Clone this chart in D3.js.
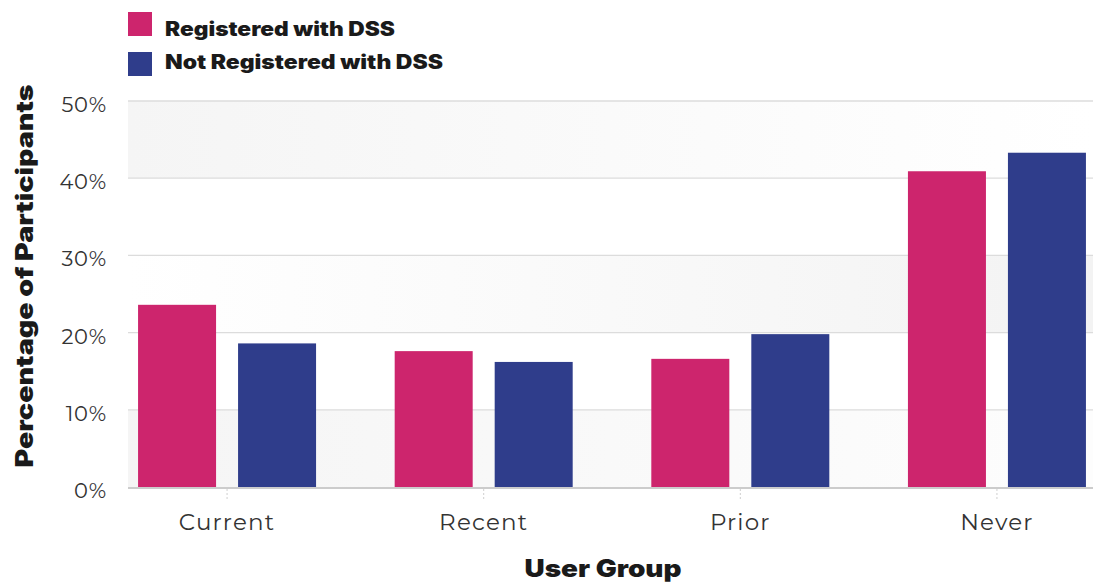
<!DOCTYPE html>
<html><head><meta charset="utf-8">
<script src="https://cdn.jsdelivr.net/npm/d3@7"></script>
<style>body{margin:0;background:#fff}svg{display:block}</style>
</head><body>
<svg id="c" width="1093" height="584"></svg>
<script>
const categories = ["Current", "Recent", "Prior", "Never"];
const seriesNames = ["Registered with DSS", "Not Registered with DSS"];
const registered = [23.6, 17.6, 16.6, 40.9];
const notRegistered = [18.6, 16.2, 19.8, 43.3];
const yTicks = [0, 10, 20, 30, 40, 50];
const colors = ["#cd256d", "#2f3d8b"];

(function () {
const svg = d3.select("#c");
const plotL = 128, plotR = 1093, plotTop = 101, plotBottom = 487;
const y = d3.scaleLinear().domain([0, 50]).range([plotBottom, plotTop]);
const x = d3.scaleBand().domain(categories).range([98.75, 1125.25]).paddingInner(0).paddingOuter(0);
const groupW = 178;
const xs = d3.scaleBand().domain(seriesNames).range([-groupW/2, groupW/2]).paddingInner(0.22);

const defs = svg.append("defs");
function grad(id, c1, c2) {
  const g = defs.append("linearGradient").attr("id", id).attr("x1", "0").attr("x2", "1").attr("y1", "0").attr("y2", "0");
  g.append("stop").attr("offset", "0").attr("stop-color", c1);
  g.append("stop").attr("offset", "1").attr("stop-color", c2);
}
grad("gA", "#f5f5f5", "#ffffff");
grad("gB", "#ffffff", "#f3f3f3");
grad("gC", "#f5f5f5", "#fdfdfd");
const bands = [[40, 50, "gA"], [20, 30, "gB"], [0, 10, "gC"]];
svg.append("g").selectAll("rect").data(bands).join("rect")
  .attr("x", plotL).attr("width", plotR - plotL)
  .attr("y", d => y(d[1])).attr("height", d => y(d[0]) - y(d[1]))
  .attr("fill", d => `url(#${d[2]})`);

svg.append("g").selectAll("line").data(yTicks.slice(1)).join("line")
  .attr("x1", plotL).attr("x2", plotR).attr("y1", d => y(d)).attr("y2", d => y(d))
  .attr("stroke", "#dcdcdc").attr("stroke-width", 1.3);

const yAxis = d3.axisLeft(y).tickValues(yTicks).tickFormat(d => d + "%").tickSize(0).tickPadding(0);
const ya = svg.append("g").attr("transform", `translate(107,3)`).call(yAxis);
ya.select(".domain").remove();
ya.selectAll("text").attr("font-family", "Montserrat, 'Open Sans', sans-serif").attr("font-size", 21)
  .attr("fill", "#333").attr("font-weight", 400).attr("dy", "0.36em").attr("letter-spacing", 0.8);

const data = categories.map((c, i) => ({cat: c, vals: [registered[i], notRegistered[i]]}));
const g = svg.append("g");
data.forEach(d => {
  seriesNames.forEach((s, j) => {
    const cx = x(d.cat) + x.bandwidth()/2;
    g.append("rect")
      .attr("x", cx + xs(s)).attr("width", xs.bandwidth())
      .attr("y", y(d.vals[j])).attr("height", plotBottom - y(d.vals[j]))
      .attr("fill", colors[j]);
  });
});

svg.append("line").attr("x1", plotL).attr("x2", plotR).attr("y1", plotBottom + 1).attr("y2", plotBottom + 1)
  .attr("stroke", "#cccccc").attr("stroke-width", 2);
const xAxis = d3.axisBottom(x).tickSize(12).tickPadding(13);
const xa = svg.append("g").attr("transform", `translate(0,${plotBottom + 2})`).call(xAxis);
xa.select(".domain").remove();
xa.selectAll(".tick line").attr("stroke", "#cfcfcf").attr("stroke-dasharray", "2,2");
xa.selectAll("text").attr("font-family", "Montserrat, 'Open Sans', sans-serif").attr("font-size", 23)
  .attr("fill", "#333").attr("letter-spacing", 1.2);

svg.append("text").attr("x", 603).attr("y", 577).attr("text-anchor", "middle")
  .attr("font-family", "Inter, 'Open Sans', sans-serif").attr("font-weight", 900).attr("font-size", 24)
  .attr("fill", "#1a1a1a").attr("textLength", 157).attr("lengthAdjust", "spacingAndGlyphs").text("User Group");
svg.append("text").attr("transform", "translate(33,276) rotate(-90)").attr("text-anchor", "middle")
  .attr("font-family", "Inter, 'Open Sans', sans-serif").attr("font-weight", 900).attr("font-size", 24)
  .attr("fill", "#1a1a1a").attr("textLength", 383).attr("lengthAdjust", "spacingAndGlyphs").text("Percentage of Participants");

const legW = [230, 278];
const legBase = [35.5, 69];
const leg = svg.append("g").selectAll("g").data(seriesNames).join("g");
leg.append("rect").attr("x", 128).attr("y", (d, i) => 12 + i * 40).attr("width", 24).attr("height", 24).attr("fill", (d, i) => colors[i]);
leg.append("text").attr("x", 165).attr("y", (d, i) => legBase[i])
  .attr("font-family", "Inter, 'Open Sans', sans-serif").attr("font-weight", 900).attr("font-size", 19.5)
  .attr("fill", "#1a1a1a").attr("textLength", (d, i) => legW[i]).attr("lengthAdjust", "spacingAndGlyphs")
  .text(d => d);
})();
</script>
</body></html>
